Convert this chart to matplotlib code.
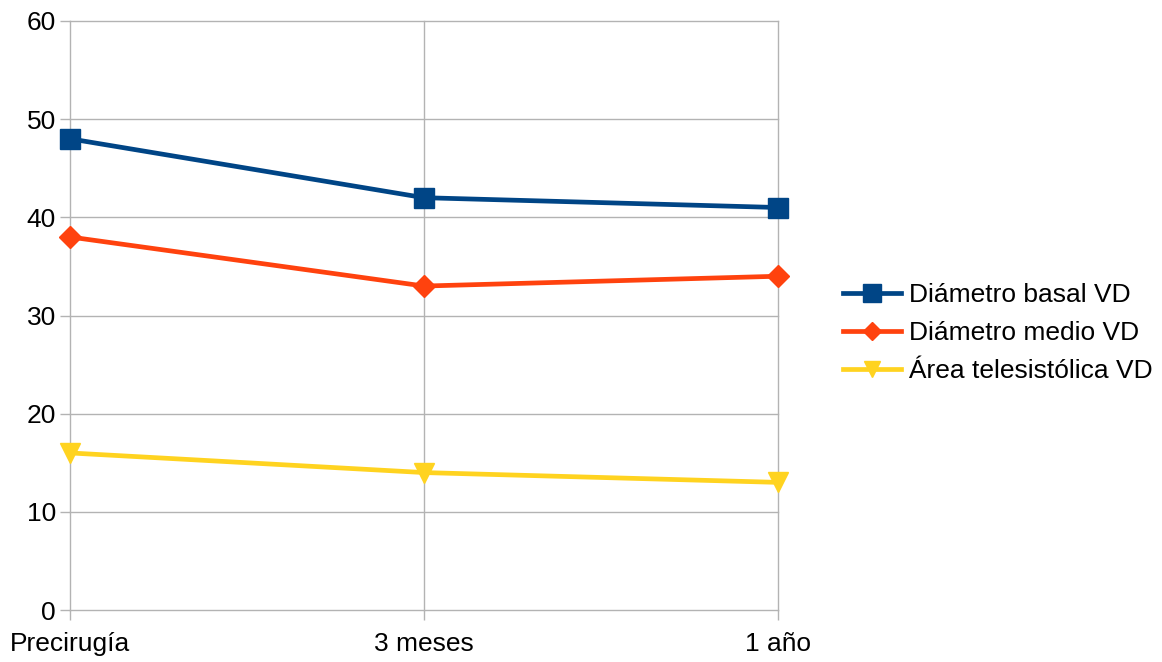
import matplotlib.pyplot as plt

plt.rcParams["font.family"] = ["Liberation Sans", "DejaVu Sans"]

# Datos
etapas = ["Precirugía", "3 meses", "1 año"]
diametro_basal = [48, 42, 41]
diametro_medio = [38, 33, 34]
area_telesistolica = [16, 14, 13]

fig = plt.figure(figsize=(11.62, 6.62), dpi=100)
ax = fig.add_axes([70 / 1162, 1 - 610 / 662, 708 / 1162, 589 / 662])

x = range(len(etapas))
ax.plot(x, diametro_basal, color="#004586", lw=3.4, marker="s", ms=14.5,
        label="Diámetro basal VD", clip_on=False, zorder=3)
ax.plot(x, diametro_medio, color="#ff420e", lw=3.4, marker="D", ms=11,
        label="Diámetro medio VD", clip_on=False, zorder=3)
ax.plot(x, area_telesistolica, color="#ffd320", lw=3.4, marker="v", ms=14,
        label="Área telesistólica VD", clip_on=False, zorder=3)

ax.set_xlim(0, 2)
ax.set_ylim(0, 60)
ax.set_xticks(list(x))
ax.set_xticklabels(etapas)
ax.set_yticks(range(0, 61, 10))
ax.grid(True, color="#b3b3b3", lw=1.0)
ax.set_axisbelow(True)
for gl in ax.get_xgridlines() + ax.get_ygridlines():
    gl.set_clip_on(False)
for s in ax.spines.values():
    s.set_visible(False)
ax.tick_params(axis="both", length=7, color="#b3b3b3", width=1.0,
               labelsize=19)
ax.tick_params(axis="x", pad=9)
ax.tick_params(axis="y", pad=3)

# Leyenda a la derecha, sin marco
ax.legend(loc="center left", bbox_to_anchor=(1.073, 0.47), frameon=False,
          fontsize=19, handlelength=2.2, handletextpad=0.3,
          labelspacing=0.53, borderpad=0, markerscale=0.85)

fig.savefig("out.png", dpi=100)
